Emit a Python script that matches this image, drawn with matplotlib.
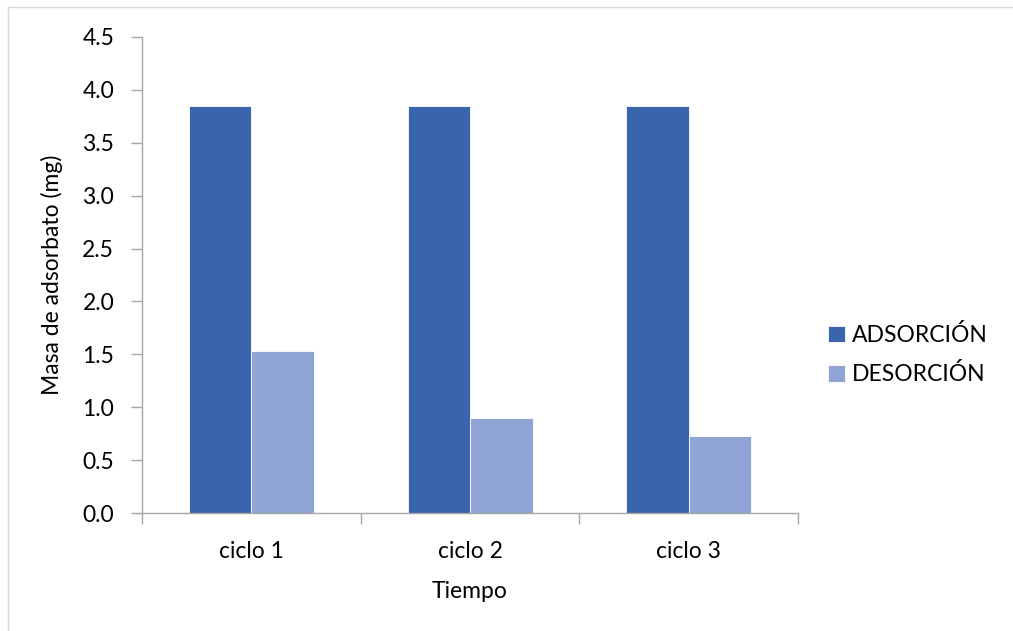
import matplotlib as mpl
mpl.use('Agg')
import matplotlib.pyplot as plt
import numpy as np

categorias = ['ciclo 1', 'ciclo 2', 'ciclo 3']
adsorcion = [3.85, 3.85, 3.85]
desorcion = [1.53, 0.90, 0.73]
series = ['ADSORCIÓN', 'DESORCIÓN']

plt.rcParams['font.family'] = ['Lato', 'DejaVu Sans']
FS = 16.5

fig = plt.figure(figsize=(10.13, 6.31), dpi=100)
ax = fig.add_axes([0.1402, 0.1870, 0.6476, 0.7544])

x = np.arange(len(categorias))
w = 1 / 3.5  # gap width 150%
ax.bar(x - w / 2, adsorcion, w, color='#3A64AC', edgecolor='white', linewidth=0.6, label=series[0])
ax.bar(x + w / 2, desorcion, w, color='#8FA4D4', edgecolor='white', linewidth=0.6, label=series[1])

ax.set_xlim(-0.5, 2.5)
ax.set_ylim(0, 4.5)
ax.set_yticks(np.arange(0, 4.51, 0.5))
ax.set_yticklabels([f'{v:.1f}' for v in np.arange(0, 4.51, 0.5)])
ax.set_xticks(x)
ax.set_xticklabels(categorias)
ax.set_xticks([-0.5, 0.5, 1.5, 2.5], minor=True)

for s in ['top', 'right']:
    ax.spines[s].set_visible(False)
for s in ['left', 'bottom']:
    ax.spines[s].set_color('#A6A6A6')
    ax.spines[s].set_linewidth(1.0)

ax.tick_params(axis='y', colors='#A6A6A6', labelcolor='black', labelsize=FS, length=8, width=1, pad=12)
ax.tick_params(axis='x', which='major', length=0, labelsize=FS, pad=20, labelcolor='black')
ax.tick_params(axis='x', which='minor', length=8, width=1, colors='#A6A6A6')

ax.set_ylabel('Masa de adsorbato (mg)', fontsize=FS, labelpad=14)
ax.set_xlabel('Tiempo', fontsize=FS, labelpad=14)

fig.legend(loc='center left', bbox_to_anchor=(0.797, 0.438), frameon=False,
           fontsize=FS, handlelength=0.75, handleheight=0.75, handletextpad=0.3,
           labelspacing=0.75)

# chart area border (left and top visible)
fig.add_artist(plt.Line2D([8 / 1013, 8 / 1013], [0, 1 - 7 / 631], color='#D9D9D9', lw=1, transform=fig.transFigure))
fig.add_artist(plt.Line2D([8 / 1013, 1], [1 - 7 / 631, 1 - 7 / 631], color='#D9D9D9', lw=1, transform=fig.transFigure))

fig.savefig('out.png', dpi=100)
plt.close(fig)
